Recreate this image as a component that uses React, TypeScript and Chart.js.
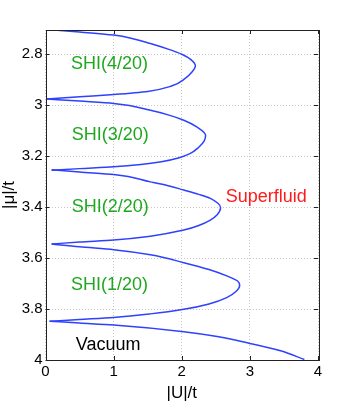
import React, { useEffect, useRef } from "react";
import { Chart, registerables } from "chart.js";

Chart.register(...registerables);

// Lobe boundaries (|U|/t, |mu|/t); each lobe ordered by |mu|/t
const lobe4U = [0.0, 0.5, 1.0, 1.3, 1.54, 1.8, 2.0, 2.13, 2.2, 2.15, 2.05, 1.85, 1.5, 1.0, 0.5, 0.02];
const lobe4Mu = [2.703, 2.713, 2.725, 2.74, 2.758, 2.78, 2.8, 2.82, 2.845, 2.87, 2.895, 2.925, 2.946, 2.958, 2.967, 2.976];

const lobe3U = [0.02, 0.5, 1.0, 1.54, 1.8, 2.03, 2.22, 2.35, 2.33, 2.25, 2.12, 1.95, 1.7, 1.4, 1.0, 0.5, 0.09];
const lobe3Mu = [2.976, 2.984, 2.993, 3.02, 3.038, 3.059, 3.085, 3.118, 3.14, 3.165, 3.19, 3.207, 3.222, 3.233, 3.242, 3.249, 3.255];

const lobe2U = [0.09, 0.5, 1.0, 1.54, 1.8, 2.03, 2.25, 2.42, 2.57, 2.52, 2.42, 2.25, 2.03, 1.54, 1.0, 0.5, 0.09];
const lobe2Mu = [3.253, 3.262, 3.272, 3.301, 3.316, 3.333, 3.35, 3.366, 3.403, 3.43, 3.451, 3.472, 3.49, 3.514, 3.529, 3.537, 3.545];

const lobe1U = [0.09, 0.5, 1.0, 1.54, 2.03, 2.4, 2.68, 2.82, 2.85, 2.8, 2.66, 2.4, 2.03, 1.54, 1.0, 0.5, 0.06];
const lobe1Mu = [3.545, 3.556, 3.567, 3.587, 3.618, 3.645, 3.672, 3.69, 3.708, 3.73, 3.755, 3.78, 3.801, 3.819, 3.833, 3.841, 3.848];

const vacuumU = [0.06, 0.5, 1.0, 2.03, 2.52, 3.0, 3.45, 3.8];
const vacuumMu = [3.848, 3.855, 3.863, 3.889, 3.908, 3.935, 3.964, 3.998];

const xTicks = [0, 1, 2, 3, 4];
const yTicks = [2.8, 3, 3.2, 3.4, 3.6, 3.8, 4];

const labels = [
  { text: "SHI(4/20)", u: 0.94, mu: 2.839, color: "#1fa81f" },
  { text: "SHI(3/20)", u: 0.95, mu: 3.118, color: "#1fa81f" },
  { text: "SHI(2/20)", u: 0.95, mu: 3.398, color: "#1fa81f" },
  { text: "SHI(1/20)", u: 0.94, mu: 3.704, color: "#1fa81f" },
  { text: "Vacuum", u: 0.92, mu: 3.941, color: "#000000" },
  { text: "Superfluid", u: 3.24, mu: 3.36, color: "#ff1a1a" },
];

const FONT = "'Liberation Sans', Arial, Helvetica, sans-serif";

const toPts = (u: number[], m: number[]) => u.map((x, i) => ({ x, y: m[i] }));

export default function App() {
  const ref = useRef<HTMLCanvasElement | null>(null);
  useEffect(() => {
    if (!ref.current) return;
    const overlay = {
      id: "overlay",
      afterDatasetsDraw(chart: any) {
        const { ctx, chartArea: a, scales } = chart;
        const xs = scales.x;
        const ys = scales.y;
        ctx.save();
        ctx.strokeStyle = "#222";
        ctx.lineWidth = 1;
        ctx.strokeRect(Math.round(a.left) + 0.5, Math.round(a.top) + 0.5, Math.round(a.right - a.left), Math.round(a.bottom - a.top));
        ctx.beginPath();
        for (const t of xTicks) {
          const px = Math.round(xs.getPixelForValue(t)) + 0.5;
          ctx.moveTo(px, a.bottom);
          ctx.lineTo(px, a.bottom - 4);
          ctx.moveTo(px, a.top);
          ctx.lineTo(px, a.top + 4);
        }
        for (const t of yTicks) {
          const py = Math.round(ys.getPixelForValue(t)) + 0.5;
          ctx.moveTo(a.left, py);
          ctx.lineTo(a.left + 4, py);
          ctx.moveTo(a.right, py);
          ctx.lineTo(a.right - 4, py);
        }
        ctx.stroke();
        ctx.textAlign = "center";
        ctx.textBaseline = "middle";
        ctx.font = `18px ${FONT}`;
        for (const l of labels) {
          ctx.fillStyle = l.color;
          ctx.fillText(l.text, xs.getPixelForValue(l.u), ys.getPixelForValue(l.mu));
        }
        ctx.fillStyle = "#000";
        ctx.font = `17px ${FONT}`;
        ctx.fillText("|U|/t", (a.left + a.right) / 2, 393);
        ctx.save();
        ctx.translate(9, (a.top + a.bottom) / 2);
        ctx.rotate(-Math.PI / 2);
        ctx.fillText("|\u03bc|/t", 0, 0);
        ctx.restore();
        ctx.restore();
      },
    };
    const line = "rgb(45,65,255)";
    const mk = (u: number[], m: number[]) => ({
      data: toPts(u, m),
      borderColor: line,
      borderWidth: 1.5,
      pointRadius: 0,
      cubicInterpolationMode: "monotone",
      fill: false,
    });
    const chart = new Chart(ref.current, {
      type: "line",
      data: {
        datasets: [
          mk(lobe4U, lobe4Mu),
          mk(lobe3U, lobe3Mu),
          mk(lobe2U, lobe2Mu),
          mk(lobe1U, lobe1Mu),
          mk(vacuumU, vacuumMu),
        ],
      },
      options: {
        indexAxis: "y",
        responsive: false,
        animation: false,
        layout: { padding: { top: 30, right: 34, left: 0, bottom: 0 } },
        plugins: { legend: { display: false }, tooltip: { enabled: false } },
        scales: {
          x: {
            type: "linear",
            min: 0,
            max: 4,
            afterFit: (s: any) => { s.height = 46; },
            afterBuildTicks: (s: any) => { s.ticks = xTicks.map((v) => ({ value: v })); },
            ticks: { color: "#000", padding: 3, font: { size: 15, family: FONT }, callback: (v: any) => String(v) },
            grid: { color: "#c8c8c8", lineWidth: 1, drawTicks: false },
            border: { display: false, dash: [1, 2] },
          },
          y: {
            type: "linear",
            reverse: true,
            min: 2.705,
            max: 4,
            afterFit: (s: any) => { s.width = 45.5; },
            afterBuildTicks: (s: any) => { s.ticks = yTicks.map((v) => ({ value: v })); },
            ticks: { color: "#000", padding: 3, font: { size: 15, family: FONT }, callback: (v: any) => String(Math.round(v * 10) / 10) },
            grid: { color: "#c8c8c8", lineWidth: 1, drawTicks: false },
            border: { display: false, dash: [1, 2] },
          },
        },
      },
      plugins: [overlay],
    });
    return () => chart.destroy();
  }, []);
  return (
    <div style={{ position: "fixed", left: 0, top: 0, width: 352, height: 406, background: "#fff" }}>
      <canvas ref={ref} width={352} height={406} style={{ display: "block" }} />
    </div>
  );
}
